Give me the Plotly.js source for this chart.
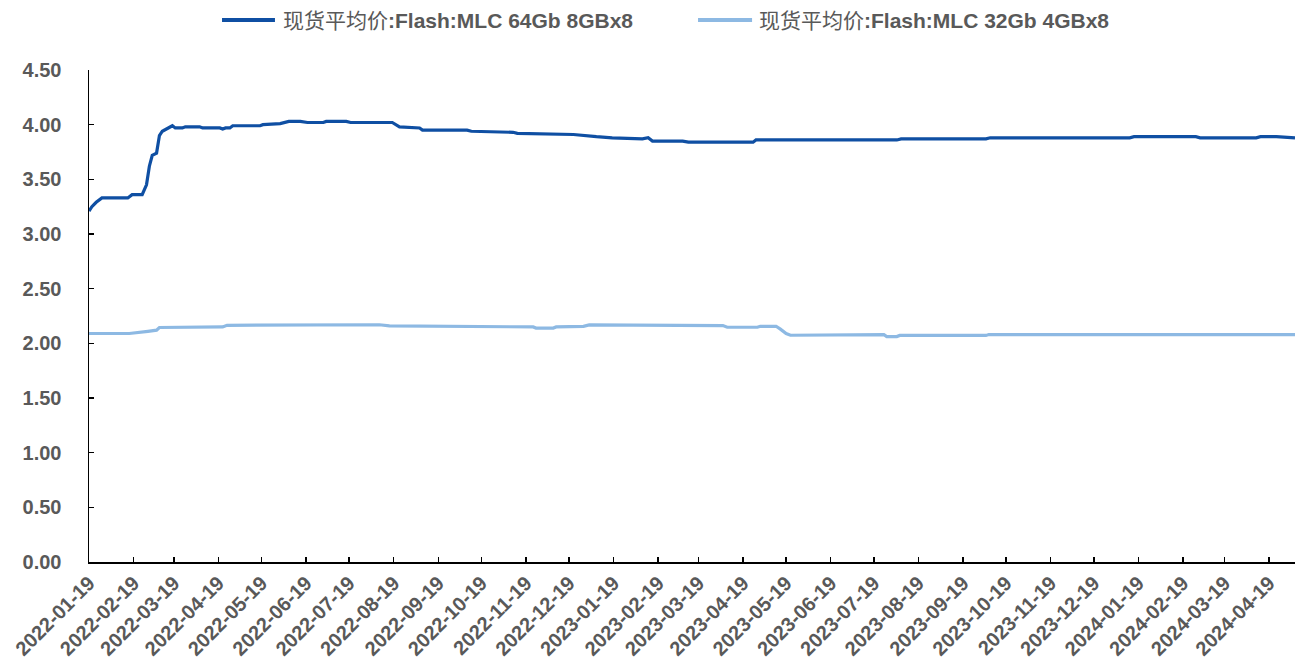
<!DOCTYPE html>
<html>
<head>
<meta charset="utf-8">
<script src="https://cdn.plot.ly/plotly-3.0.1.min.js"></script>
<style>html,body{margin:0;padding:0;background:#fff;}#chart{width:1295px;height:666px;}</style>
</head>
<body>
<div id="chart"></div>
<script>
// Series 1: 现货平均价:Flash:MLC 64Gb 8GBx8
const mlc64Dates = ["2022-01-19","2022-01-21","2022-01-24","2022-01-28","2022-02-15","2022-02-18","2022-02-25","2022-02-28","2022-03-02","2022-03-04","2022-03-07","2022-03-09","2022-03-11","2022-03-15","2022-03-18","2022-03-20","2022-03-25","2022-03-27","2022-04-06","2022-04-08","2022-04-20","2022-04-22","2022-04-24","2022-04-27","2022-04-29","2022-05-18","2022-05-20","2022-06-01","2022-06-07","2022-06-15","2022-06-20","2022-07-01","2022-07-03","2022-07-17","2022-07-20","2022-08-02","2022-08-18","2022-08-23","2022-09-06","2022-09-08","2022-10-09","2022-10-12","2022-11-10","2022-11-13","2022-12-08","2022-12-22","2023-01-07","2023-01-18","2023-02-08","2023-02-12","2023-02-15","2023-03-08","2023-03-12","2023-04-26","2023-04-28","2023-08-04","2023-08-07","2023-10-05","2023-10-08","2024-01-13","2024-01-16","2024-02-28","2024-03-02","2024-04-10","2024-04-13","2024-04-24","2024-05-07"];
const mlc64Values = [3.21,3.25,3.29,3.33,3.33,3.36,3.36,3.45,3.62,3.72,3.74,3.90,3.94,3.97,3.99,3.97,3.97,3.98,3.98,3.97,3.97,3.96,3.97,3.97,3.99,3.99,4.00,4.01,4.03,4.03,4.02,4.02,4.03,4.03,4.02,4.02,4.02,3.98,3.97,3.95,3.95,3.94,3.93,3.92,3.91,3.91,3.89,3.88,3.87,3.88,3.85,3.85,3.84,3.84,3.86,3.86,3.87,3.87,3.88,3.88,3.89,3.89,3.88,3.88,3.89,3.89,3.88];

// Series 2: 现货平均价:Flash:MLC 32Gb 4GBx8
const mlc32Dates = ["2022-01-19","2022-02-16","2022-03-01","2022-03-07","2022-03-09","2022-04-22","2022-04-25","2022-05-23","2022-05-26","2022-08-09","2022-08-16","2022-11-03","2022-11-24","2022-11-26","2022-12-08","2022-12-10","2022-12-29","2023-01-02","2023-01-18","2023-01-20","2023-04-05","2023-04-08","2023-04-29","2023-05-01","2023-05-12","2023-05-15","2023-05-19","2023-05-22","2023-07-13","2023-07-15","2023-07-26","2023-07-28","2023-08-04","2023-08-06","2023-10-05","2023-10-07","2024-05-07"];
const mlc32Values = [2.09,2.09,2.11,2.12,2.145,2.15,2.165,2.165,2.17,2.17,2.16,2.155,2.15,2.14,2.14,2.15,2.155,2.168,2.168,2.162,2.162,2.147,2.147,2.156,2.156,2.13,2.09,2.074,2.074,2.08,2.08,2.062,2.062,2.072,2.072,2.08,2.08];

// Tick labels
const xTickLabels = ["2022-01-19","2022-02-19","2022-03-19","2022-04-19","2022-05-19","2022-06-19","2022-07-19","2022-08-19","2022-09-19","2022-10-19","2022-11-19","2022-12-19","2023-01-19","2023-02-19","2023-03-19","2023-04-19","2023-05-19","2023-06-19","2023-07-19","2023-08-19","2023-09-19","2023-10-19","2023-11-19","2023-12-19","2024-01-19","2024-02-19","2024-03-19","2024-04-19"];
const yTickValues = [0,0.5,1,1.5,2,2.5,3,3.5,4,4.5];
const seriesNamePrefix = "现货平均价";
const seriesNameSuffixes = [":Flash:MLC 64Gb 8GBx8", ":Flash:MLC 32Gb 4GBx8"];
const seriesNames = seriesNameSuffixes.map(s => seriesNamePrefix + s);
const seriesColors = ["#0F4FA3", "#8DB9E3"];

const fontFamily = "'Liberation Sans', Arial, 'Noto Sans CJK SC', sans-serif";
const textColor = "#595959";

const traces = [
  {x: mlc64Dates, y: mlc64Values, name: seriesNames[0], type: "scatter", mode: "lines",
   line: {color: seriesColors[0], width: 3.2}},
  {x: mlc32Dates, y: mlc32Values, name: seriesNames[1], type: "scatter", mode: "lines",
   line: {color: seriesColors[1], width: 3.2}}
];

// Custom legend (long line samples, as in the reference)
const legendY = 1.1016;
const legendLines = [[0.1103, 0.1542], [0.5050, 0.5498]];
const legendTextX = [0.1592, 0.5539];
const shapes = legendLines.map((p, i) => ({
  type: "line", xref: "paper", yref: "paper", x0: p[0], x1: p[1], y0: legendY, y1: legendY,
  line: {color: seriesColors[i], width: 4}
}));
const annotations = seriesNameSuffixes.map((s, i) => ({
  xref: "paper", yref: "paper", x: legendTextX[i], y: legendY, xanchor: "left", yanchor: "middle",
  showarrow: false, text: seriesNamePrefix + "<b>" + s + "</b>",
  font: {family: fontFamily, size: 21, color: textColor, weight: "normal"}
}));

const layout = {
  width: 1295, height: 666,
  margin: {l: 89, r: 0, t: 70, b: 104, pad: 0},
  paper_bgcolor: "#fff", plot_bgcolor: "#fff",
  font: {family: fontFamily, color: textColor, size: 20, weight: "bold"},
  showlegend: false,
  shapes: shapes,
  annotations: annotations,
  xaxis: {
    type: "date", range: ["2022-01-19", "2024-05-07"],
    tickmode: "array", tickvals: xTickLabels, ticktext: xTickLabels,
    tickangle: -45, ticks: "inside", ticklen: 5, tickwidth: 1.5, tickcolor: "#000",
    showline: true, linecolor: "#000", linewidth: 1.5, showgrid: false, zeroline: false,
    tickfont: {size: 20, color: textColor, weight: "bold"}, fixedrange: true
  },
  yaxis: {
    range: [0, 4.5], tickmode: "array", tickvals: yTickValues, tickformat: ".2f",
    ticks: "inside", ticklen: 5, tickwidth: 1.5, tickcolor: "#000",
    showline: true, linecolor: "#000", linewidth: 1.5, showgrid: false, zeroline: false,
    tickfont: {size: 20, color: textColor, weight: "bold"}, ticklabelstandoff: 22
  }
};

Plotly.newPlot("chart", traces, layout, {displayModeBar: false, staticPlot: true});
</script>
</body>
</html>
